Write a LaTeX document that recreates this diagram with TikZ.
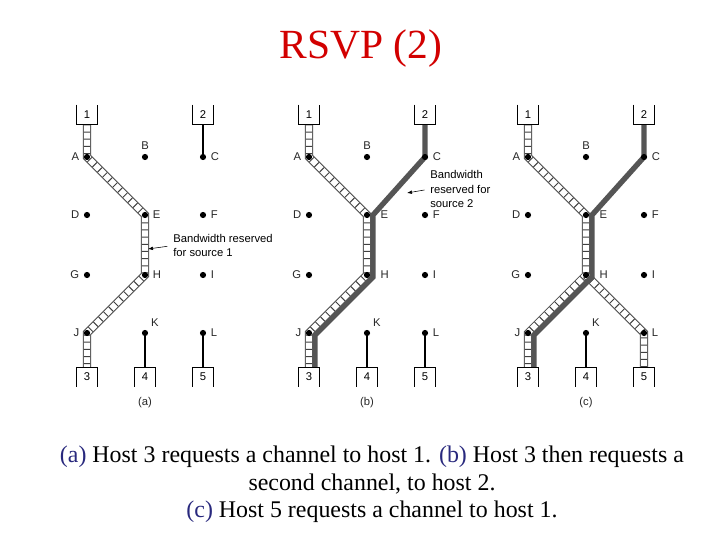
\documentclass[tikz,border=0pt]{standalone}
\usepackage{fontspec}
\setmainfont{Liberation Serif}
\setsansfont{Liberation Sans}
\usetikzlibrary{arrows.meta,positioning,calc}
\definecolor{titlered}{RGB}{210,0,0}
\definecolor{tagblue}{RGB}{40,40,125}
\definecolor{pathgray}{RGB}{85,85,85}
\pgfdeclarelayer{background}
\pgfsetlayers{background,main}
\tikzset{
  router/.style={circle, fill=black, inner sep=0pt, minimum size=4.4pt},
  tag/.style={font=\sffamily\fontsize{8}{9}\selectfont, inner sep=1pt, text=black!85},
  host/.style={minimum width=0.5cm, minimum height=0.48cm, inner sep=0pt,
    font=\sffamily\fontsize{8}{9}\selectfont},
  link/.style={line width=1.5pt},
  reserved/.style={line width=3.8pt, draw=pathgray},
  note/.style={font=\sffamily\fontsize{8}{10.3}\selectfont, align=left, inner sep=0pt},
  pointer/.style={-{Latex[length=3.5pt,width=2.6pt]}, thin, shorten <=4pt}
}
\newcommand{\ladder}[1]{
  \begin{pgfonlayer}{background}
    \draw[line width=5.8pt, black!70] #1;
    \draw[line width=4.4pt, white] #1;
    \draw[line width=4.4pt, black!75, dash pattern=on 0.7pt off 4.4pt] #1;
  \end{pgfonlayer}
}
% #1 prefix, #2 sub-caption, #3 gap of the E/H tags
\newcommand{\network}[3]{
  \node[router, label={[tag]left:A}] (#1A) at (0,157) {};
  \node[router, label={[tag]above:B}] (#1B) at (58,157) {};
  \node[router, label={[tag]right:C}] (#1C) at (116,157) {};
  \node[router, label={[tag]left:D}] (#1D) at (0,215) {};
  \node[router, label={[tag, label distance=#3]right:E}] (#1E) at (58,215) {};
  \node[router, label={[tag]right:F}] (#1F) at (116,215) {};
  \node[router, label={[tag]left:G}] (#1G) at (0,275) {};
  \node[router, label={[tag, label distance=#3]right:H}] (#1H) at (58,275) {};
  \node[router, label={[tag]right:I}] (#1I) at (116,275) {};
  \node[router, label={[tag]left:J}] (#1J) at (0,333) {};
  \node[router, label={[tag]above right:K}] (#1K) at (58,333) {};
  \node[router, label={[tag]right:L}] (#1L) at (116,333) {};
  \node[host] (#1h1) at (0,114.5) {1};
  \node[host] (#1h2) at (116,114.5) {2};
  \node[host] (#1h3) at (0,377) {3};
  \node[host] (#1h4) at (58,377) {4};
  \node[host] (#1h5) at (116,377) {5};
  \foreach \h in {h1,h2}
    \draw (#1\h.north west) |- (#1\h.south east) -- (#1\h.north east);
  \foreach \h in {h3,h4,h5}
    \draw (#1\h.south west) |- (#1\h.north east) -- (#1\h.south east);
  \node[tag] (#1cap) at (58,403) {#2};
}

\begin{document}
\begin{tikzpicture}[x=0.025cm, y=-0.025cm, label distance=2pt]
  \useasboundingbox (0,0) rectangle (720,540);

  \node[font=\fontsize{29.5}{34}\selectfont, text=titlered, anchor=base] (title) at (361,58) {RSVP (2)};

  % -------------------------------------------------------------------
  % (a) host 3 -> host 1
  % -------------------------------------------------------------------
  \begin{scope}[shift={(87,0)}]
    \network{a}{(a)}{2pt}
    \ladder{(ah1.south) -- (aA.center) -- (aE.center) -- (aH.center) -- (aJ.center) -- (ah3.north)}
    \draw[link] (ah2) -- (aC);
    \draw[link] (aK) -- (ah4);
    \draw[link] (aL) -- (ah5);
    \node[note, anchor=west] (anote) at (86,245.5) {Bandwidth reserved\\for source 1};
    \coordinate (atip) at (61,249);
    \draw[pointer] (anote.west) -- (atip);
  \end{scope}

  % -------------------------------------------------------------------
  % (b) host 3 -> host 2 added
  % -------------------------------------------------------------------
  \begin{scope}[shift={(309,0)}]
    \network{b}{(b)}{6pt}
    \ladder{(bh1.south) -- (bA.center) -- (bE.center) -- (bH.center) -- (bJ.center) -- (bh3.north)}
    \begin{pgfonlayer}{background}
      \draw[reserved] (bh2.south) -- (bC.center) -- ($(bE.center)+(6,0)$)
        -- ($(bH.center)+(6,2)$) -- ($(bJ.center)+(6,2)$) -- ($(bh3.north)+(6,0)$);
    \end{pgfonlayer}
    \draw[link] (bK) -- (bh4);
    \draw[link] (bL) -- (bh5);
    \node[note, anchor=west] (bnote) at (121,189) {Bandwidth\\reserved for\\source 2};
    \coordinate (btip) at (98,193);
    \draw[pointer] (bnote.west) -- (btip);
  \end{scope}

  % -------------------------------------------------------------------
  % (c) host 5 -> host 1 added
  % -------------------------------------------------------------------
  \begin{scope}[shift={(528,0)}]
    \network{c}{(c)}{6pt}
    \ladder{(ch1.south) -- (cA.center) -- (cE.center) -- (cH.center) -- (cJ.center) -- (ch3.north)}
    \ladder{(ch5.north) -- (cL.center) -- (cH.center)}
    \begin{pgfonlayer}{background}
      \draw[reserved] (ch2.south) -- (cC.center) -- ($(cE.center)+(6,0)$)
        -- ($(cH.center)+(6,2)$) -- ($(cJ.center)+(6,2)$) -- ($(ch3.north)+(6,0)$);
    \end{pgfonlayer}
    \draw[link] (cK) -- (ch4);
  \end{scope}

  \node[font=\fontsize{17}{19.5}\selectfont, align=center, anchor=north, inner sep=0pt] (caption) at (372,446)
    {\textcolor{tagblue}{(a)} Host 3 requests a channel to host 1. \textcolor{tagblue}{(b)} Host 3 then requests a\\
     second channel, to host 2.\\
     \textcolor{tagblue}{(c)} Host 5 requests a channel to host 1.};
\end{tikzpicture}
\end{document}
